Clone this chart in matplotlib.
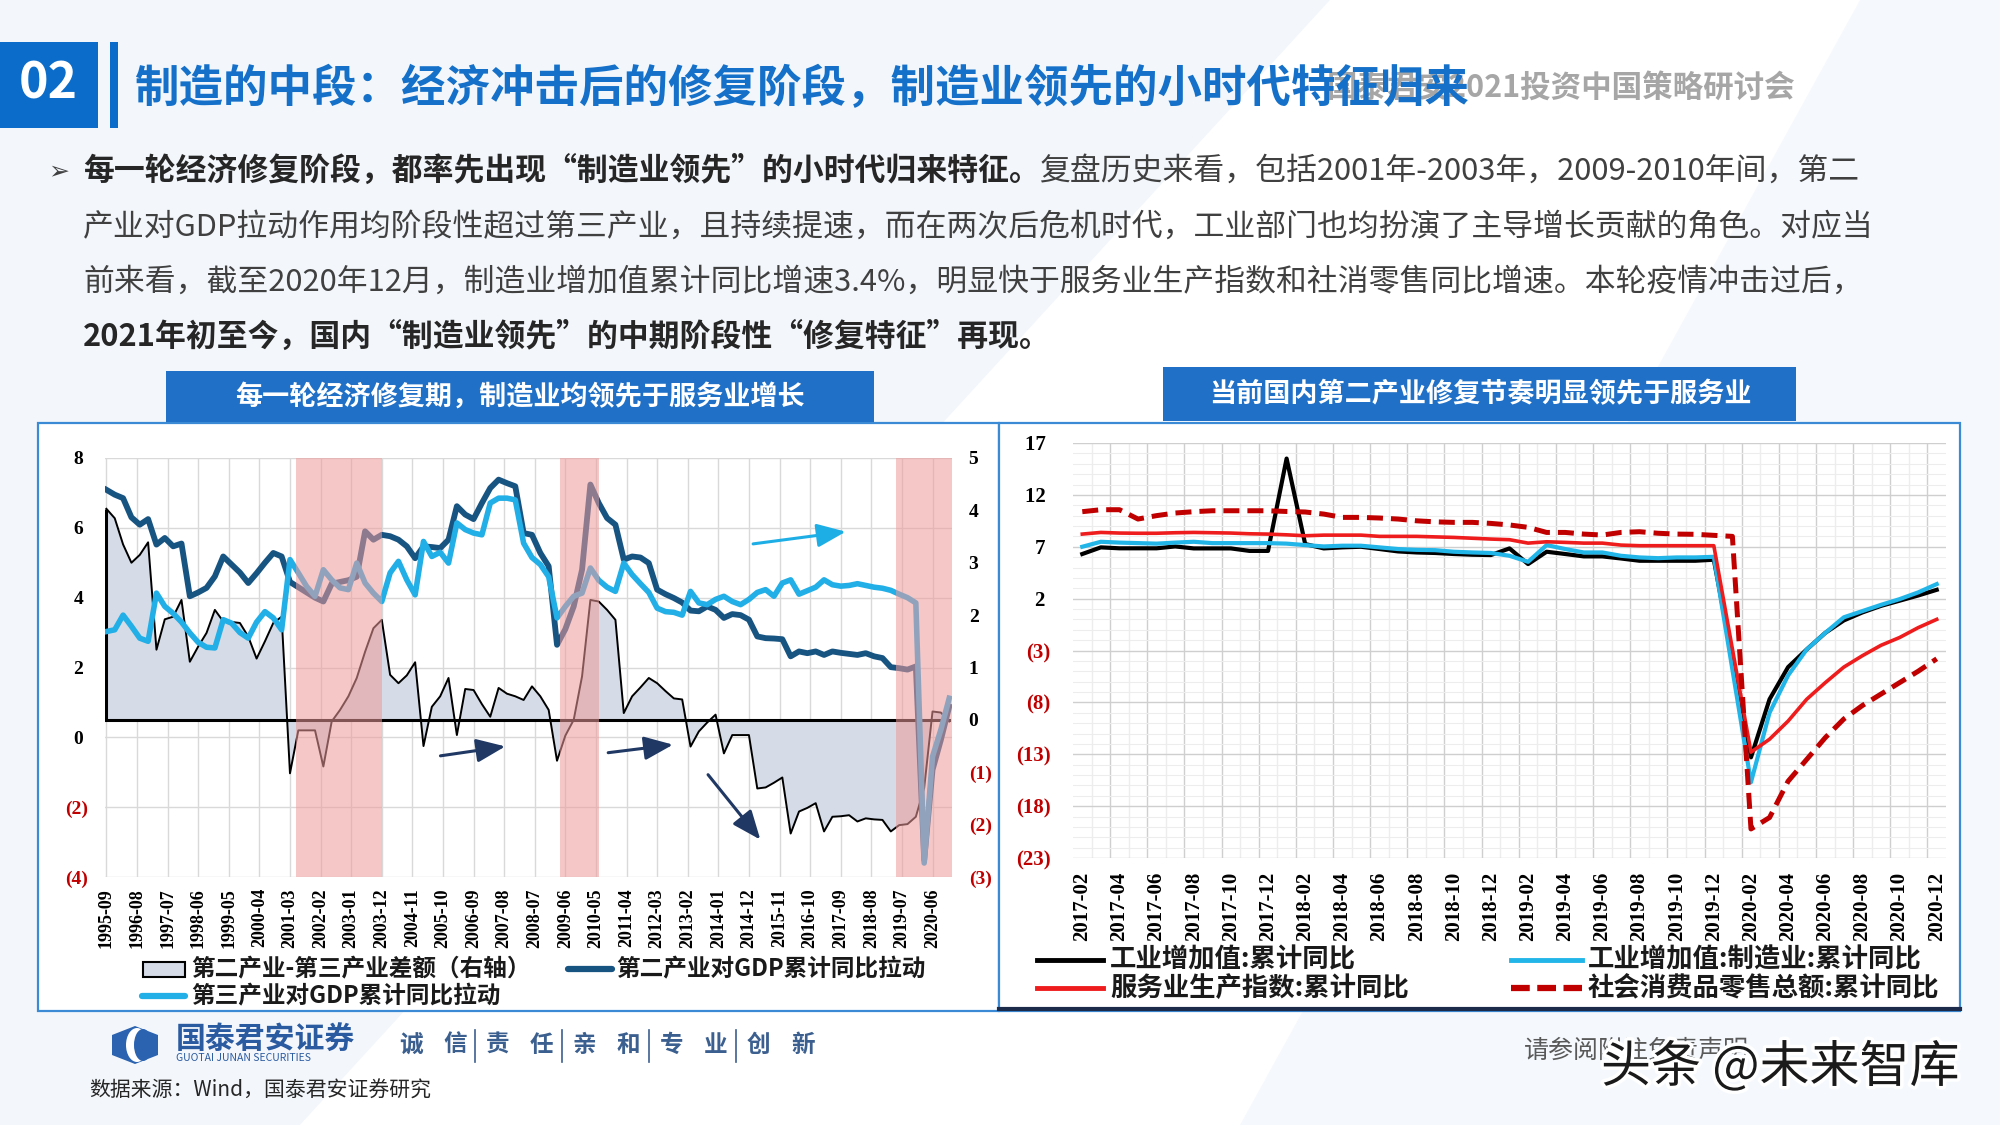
import numpy as np
import pandas as pd
import matplotlib
matplotlib.use("Agg")
import matplotlib.pyplot as plt
import matplotlib.patheffects as pe
from matplotlib.lines import Line2D
from matplotlib.patches import Rectangle, Polygon, Ellipse
from matplotlib.transforms import blended_transform_factory

CJK = ["Noto Sans CJK SC", "DejaVu Sans"]
SERIF = ["Liberation Serif", "DejaVu Serif"]
plt.rcParams["font.family"] = CJK

# ---------------- left chart: quarterly, 1995Q3 .. 2020Q4 ----------------
left_quarters = pd.period_range("1995Q3", "2020Q4", freq="Q")
second_pull = [
    7.09, 6.95, 6.85, 6.30, 6.09, 6.25, 5.52, 5.71, 5.47, 5.55,
    4.04, 4.15, 4.28, 4.61, 5.18, 4.95, 4.72, 4.42, 4.70, 5.00,
    5.28, 5.18, 4.45, 4.30, 4.15, 4.00, 3.89, 4.40, 4.45, 4.50,
    4.60, 5.90, 5.66, 5.80, 5.76, 5.66, 5.47, 5.13, 5.47, 5.45,
    5.42, 5.66, 6.62, 6.38, 6.25, 6.71, 7.14, 7.38, 7.28, 7.19,
    5.85, 5.80, 5.28, 4.90, 2.65, 3.10, 3.75, 4.80, 7.24, 6.71,
    6.28, 6.09, 5.09, 5.18, 5.15, 4.99, 4.23, 4.10, 3.99, 3.86,
    3.63, 3.61, 3.75, 3.65, 3.42, 3.53, 3.50, 3.37, 2.89, 2.84,
    2.83, 2.81, 2.32, 2.46, 2.41, 2.46, 2.36, 2.46, 2.42, 2.39,
    2.36, 2.41, 2.32, 2.27, 2.01, 1.98, 1.94, 2.03, -3.51, -0.93,
    -0.07, 0.88,
]
third_pull = [
    3.03, 3.08, 3.50, 3.18, 2.84, 2.75, 4.13, 3.75, 3.55, 3.30,
    2.99, 2.72, 2.58, 2.56, 3.37, 3.27, 3.00, 2.84, 3.30, 3.60,
    3.42, 3.08, 5.09, 4.71, 4.32, 4.04, 4.80, 4.51, 4.28, 4.23,
    4.99, 4.42, 4.13, 3.89, 4.71, 5.04, 4.51, 4.08, 5.61, 5.18,
    5.30, 4.99, 6.14, 5.95, 5.85, 5.80, 6.71, 6.85, 6.85, 6.80,
    5.56, 5.15, 4.95, 4.60, 3.42, 3.75, 4.04, 4.13, 4.85, 4.50,
    4.30, 4.18, 4.99, 4.66, 4.40, 4.15, 3.70, 3.60, 3.58, 3.50,
    4.18, 3.85, 3.80, 3.95, 4.04, 3.89, 3.80, 3.95, 4.15, 4.23,
    4.04, 4.42, 4.51, 4.10, 4.20, 4.30, 4.51, 4.37, 4.33, 4.35,
    4.40, 4.35, 4.30, 4.27, 4.21, 4.10, 4.00, 3.85, -3.60, -0.55,
    0.22, 1.12,
]
second_minus_third = [
    4.03, 3.85, 3.35, 3.00, 3.15, 3.39, 1.34, 1.92, 1.97, 2.29,
    1.11, 1.40, 1.66, 2.10, 1.88, 1.87, 1.85, 1.59, 1.17, 1.50,
    1.85, 1.97, -1.02, -0.20, -0.20, -0.20, -0.89, -0.03, 0.19, 0.45,
    0.80, 1.30, 1.75, 1.91, 0.86, 0.70, 0.85, 1.10, -0.50, 0.25,
    0.45, 0.80, -0.29, 0.59, 0.57, 0.30, 0.06, 0.61, 0.50, 0.45,
    0.38, 0.64, 0.45, 0.19, -0.78, -0.30, 0.00, 0.83, 2.29, 2.26,
    2.10, 1.91, 0.13, 0.45, 0.62, 0.80, 0.70, 0.55, 0.41, 0.39,
    -0.51, -0.22, -0.05, 0.10, -0.64, -0.29, -0.29, -0.29, -1.31, -1.29,
    -1.20, -1.10, -2.17, -1.75, -1.68, -1.59, -2.13, -1.85, -1.84, -1.82,
    -1.94, -1.88, -1.90, -1.91, -2.13, -2.01, -1.99, -1.85, -1.30, 0.16,
    0.14, -0.03,
]
left_tick_labels = [
    "1995-09", "1996-08", "1997-07", "1998-06", "1999-05", "2000-04", "2001-03",
    "2002-02", "2003-01", "2003-12", "2004-11", "2005-10", "2006-09", "2007-08",
    "2008-07", "2009-06", "2010-05", "2011-04", "2012-03", "2013-02", "2014-01",
    "2014-12", "2015-11", "2016-10", "2017-09", "2018-08", "2019-07", "2020-06",
]
recovery_periods = [("2001-05", "2003-12"), ("2009-04", "2010-06"), ("2019-05", "2021-01")]
pull_yticks = [-4, -2, 0, 2, 4, 6, 8]
diff_yticks = [-3, -2, -1, 0, 1, 2, 3, 4, 5]

# ---------------- right chart: monthly, 2017-02 .. 2020-12 ----------------
right_months = pd.period_range("2017-02", "2020-12", freq="M")
nan = np.nan
iva_total = [
    6.30, 6.94, 6.85, 6.85, 6.85, 7.03, 6.84, 6.84, 6.84, 6.60,
    6.60, 15.50, 7.26, 6.84, 6.94, 7.00, 6.78, 6.55, 6.45, 6.40,
    6.30, 6.23, 6.20, 6.84, 5.33, 6.52, 6.30, 6.07, 6.07, 5.87,
    5.65, 5.65, 5.65, 5.65, 5.75, nan, -13.30, -7.70, -4.60, -2.90,
    -1.30, -0.10, 0.67, 1.30, 1.80, 2.30, 2.85,
]
iva_mfg = [
    7.00, 7.48, 7.40, 7.35, 7.30, 7.40, 7.48, 7.35, 7.35, 7.35,
    7.35, 7.30, 7.16, 7.03, 7.10, 7.10, 6.94, 6.78, 6.70, 6.67,
    6.52, 6.45, 6.40, 6.13, 5.55, 7.16, 6.78, 6.45, 6.45, 6.13,
    5.97, 5.90, 5.97, 5.97, 6.03, nan, -15.70, -9.00, -5.40, -2.90,
    -1.30, 0.20, 0.80, 1.40, 1.95, 2.60, 3.40,
]
services_index = [
    8.22, 8.38, 8.32, 8.30, 8.30, 8.35, 8.38, 8.35, 8.32, 8.25,
    8.22, 8.15, 8.06, 8.12, 8.12, 8.12, 8.00, 8.00, 8.00, 7.95,
    7.90, 7.82, 7.74, 7.68, 7.35, 7.48, 7.42, 7.35, 7.35, 7.16,
    7.10, 7.10, 7.10, 7.10, 7.10, nan, -12.80, -11.55, -9.80, -7.70,
    -6.10, -4.60, -3.50, -2.50, -1.75, -0.80, 0.00,
]
retail_sales = [
    10.38, 10.57, 10.57, 9.67, 10.00, 10.25, 10.38, 10.47, 10.47, 10.47,
    10.47, 10.40, 10.35, 10.15, 9.83, 9.83, 9.77, 9.67, 9.50, 9.40,
    9.35, 9.35, 9.25, 9.10, 8.87, 8.38, 8.38, 8.22, 8.13, 8.38,
    8.45, 8.30, 8.22, 8.20, 8.10, 8.00, -20.20, -19.10, -15.60, -13.50,
    -11.40, -9.60, -8.30, -7.20, -6.10, -5.00, -3.80,
]
growth_yticks = list(range(-23, 18, 5))

motto_groups = [("诚", "信"), ("责", "任"), ("亲", "和"), ("专", "业"), ("创", "新")]

W, H = 2000, 1125
fig = plt.figure(figsize=(20, 11.25), dpi=100)
fig.patch.set_facecolor("white")


def txt(x, y, s, **kw):
    return fig.text(x / W, 1 - y / H, s, **kw)


def box(x0, y0, x1, y1, **kw):
    return fig.add_artist(Rectangle((x0 / W, 1 - y1 / H), (x1 - x0) / W, (y1 - y0) / H,
                                    transform=fig.transFigure, **kw))


def fline(x0, x1, y, **kw):
    fig.add_artist(Line2D([x0 / W, x1 / W], [1 - y / H, 1 - y / H], transform=fig.transFigure, **kw))


def month_index(s, base_year=1995, base_month=9):
    y, m = s.split("-")
    return (int(y) - base_year) * 12 + int(m) - base_month


def paren(v, pad=""):
    return f"({abs(v)})" if v < 0 else f"{v}{pad}"


# ---------------- slide background ----------------
fig.add_artist(Polygon([(0, 1), (0.665, 1), (0.15, 0), (0, 0)], closed=True,
                       transform=fig.transFigure, facecolor="#f3f7fc", lw=0, zorder=-20))
fig.add_artist(Polygon([(0.93, 1), (1, 1), (1, 0), (0.62, 0)], closed=True,
                       transform=fig.transFigure, facecolor="#f5f9fd", lw=0, zorder=-20))

# ---------------- title band ----------------
box(0, 42, 98, 128, facecolor="#0b6cc9", lw=0)
box(110, 42, 118, 128, facecolor="#0b6cc9", lw=0)
txt(48, 84, "02", fontsize=36, weight="bold", color="white", ha="center", va="center")
txt(1327, 88, "国泰君安2021投资中国策略研讨会", fontsize=22, weight="bold", color="#a6a6a6",
    va="center", zorder=1)
txt(134, 89, "制造的中段：经济冲击后的修复阶段，制造业领先的小时代特征归来", fontsize=32,
    weight="bold", color="#1470c8", va="center", zorder=2)

# ---------------- bullet paragraph ----------------
FS = 22.2
txt(48, 171, "➢", family=["DejaVu Sans"], fontsize=18, color="#404040", va="center")
b1 = txt(83, 171, "每一轮经济修复阶段，都率先出现“制造业领先”的小时代归来特征。", fontsize=FS,
         weight="bold", color="#262626", va="center")
bb = b1.get_window_extent(renderer=fig.canvas.get_renderer())
fig.text(bb.x1 / W, 1 - 171 / H, "复盘历史来看，包括2001年-2003年，2009-2010年间，第二", fontsize=FS,
         color="#404040", va="center")
txt(83, 227, "产业对GDP拉动作用均阶段性超过第三产业，且持续提速，而在两次后危机时代，工业部门也均扮演了主导增长贡献的角色。对应当",
    fontsize=FS, color="#404040", va="center")
txt(83, 282, "前来看，截至2020年12月，制造业增加值累计同比增速3.4%，明显快于服务业生产指数和社消零售同比增速。本轮疫情冲击过后，",
    fontsize=FS, color="#404040", va="center")
txt(83, 337, "2021年初至今，国内“制造业领先”的中期阶段性“修复特征”再现。", fontsize=FS,
    weight="bold", color="#262626", va="center")

# ---------------- chart panels and headers ----------------
box(38, 423, 999, 1011, facecolor="white", edgecolor="#3a8ad6", lw=1.6, zorder=-5)
box(999, 423, 1960, 1011, facecolor="white", edgecolor="#3a8ad6", lw=1.6, zorder=-5)
fline(999, 1960, 1009, color="#1c2b4a", lw=3, zorder=-4)
box(166, 371, 874, 422, facecolor="#1f70c6", lw=0)
txt(520, 397, "每一轮经济修复期，制造业均领先于服务业增长", fontsize=19.5, weight="bold",
    color="white", ha="center", va="center")
box(1163, 367, 1796, 421, facecolor="#1f70c6", lw=0)
txt(1480, 394, "当前国内第二产业修复节奏明显领先于服务业", fontsize=19.5, weight="bold",
    color="white", ha="center", va="center")

# ---------------- left chart ----------------
xq = np.array([(q.year - 1995) * 12 + q.quarter * 3 - 9 for q in left_quarters])
tick_ms = [month_index(s) for s in left_tick_labels]

axD = fig.add_axes([105 / W, 1 - 877 / H, 847 / W, 419 / H])
axG = axD.twinx()
for a in (axD, axG):
    for s in a.spines.values():
        s.set_visible(False)

axD.set_axisbelow(True)
axD.set_xticks(tick_ms, left_tick_labels, rotation=90, fontfamily=SERIF, weight="bold",
               fontsize=13)
axD.grid(axis="x", color="#d9d9d9", lw=1)
tr = blended_transform_factory(axD.transAxes, axG.transData)
for v in pull_yticks:
    axD.plot([0, 1], [v, v], transform=tr, color="#d9d9d9", lw=1, zorder=0.5)

diff = np.array(second_minus_third)
axD.fill_between(xq, 0, diff, facecolor="#d5dce7", lw=0, zorder=1)
axD.plot(xq, diff, color="black", lw=1.4, zorder=2)
axD.plot([xq[0], xq[-1]], [0, 0], color="black", lw=2.2, zorder=2)
axD.vlines(xq[0], 0, diff[0], color="black", lw=2.2, zorder=2)

axD.yaxis.tick_right()
axD.set_yticks(diff_yticks, [paren(v) for v in diff_yticks], fontfamily=SERIF,
               weight="bold", fontsize=14)
for lbl, v in zip(axD.get_yticklabels(), diff_yticks):
    lbl.set_color("#c00000" if v < 0 else "black")
axD.tick_params(axis="both", length=0)
axD.tick_params(axis="x", pad=8)
axD.tick_params(axis="y", pad=12)

axG.plot(xq, second_pull, color="#185482", lw=4.2, solid_joinstyle="round", zorder=3)
axG.plot(xq, third_pull, color="#22aee6", lw=4.0, solid_joinstyle="round", zorder=4)
for start, end in recovery_periods:
    axG.axvspan(month_index(start), month_index(end), color="#ee9a9a", alpha=0.55, lw=0, zorder=10)
axG.yaxis.tick_left()
axG.set_yticks(pull_yticks, [paren(v, " ") for v in pull_yticks], fontfamily=SERIF,
               weight="bold", fontsize=14)
for lbl, v in zip(axG.get_yticklabels(), pull_yticks):
    lbl.set_color("#c00000" if v < 0 else "black")
axG.tick_params(axis="y", length=0, pad=12)

trend_arrows = [((232.5, 5.54), (265.8, 5.89), "#1eaee6"),
                ((120.1, -0.53), (143.4, -0.26), "#203864"),
                ((180.4, -0.44), (203.7, -0.21), "#203864"),
                ((216.3, -1.07), (235.1, -2.93), "#203864")]
for tail, head, col in trend_arrows:
    axG.annotate("", xy=head, xytext=tail, zorder=12,
                 arrowprops=dict(arrowstyle="-|>,head_length=1.1,head_width=0.45",
                                 mutation_scale=16, color=col, lw=2.2, shrinkA=0, shrinkB=0))

axD.set_xlim(-0.5, 304)
axD.set_ylim(-3, 5)
axG.set_ylim(-4, 8)

# left legend
box(143, 962, 185, 977, facecolor="#d5dce7", edgecolor="black", lw=1.5)
txt(191, 969, "第二产业-第三产业差额（右轴）", fontsize=17, weight="bold", color="#1a1a1a", va="center")
fline(568, 612, 969, color="#185482", lw=4.5, solid_capstyle="round")
txt(616, 969, "第二产业对GDP累计同比拉动", fontsize=17, weight="bold", color="#1a1a1a", va="center")
fline(142, 185, 996, color="#22aee6", lw=4.5, solid_capstyle="round")
txt(191, 996, "第三产业对GDP累计同比拉动", fontsize=17, weight="bold", color="#1a1a1a", va="center")

# ---------------- right chart ----------------
axR = fig.add_axes([1073 / W, 1 - 858 / H, 873 / W, 415 / H])
xm = np.arange(len(right_months))
for s in axR.spines.values():
    s.set_visible(False)
axR.set_axisbelow(True)
axR.set_yticks(growth_yticks, [paren(v, " ") for v in growth_yticks], fontfamily=SERIF,
               weight="bold", fontsize=15)
for lbl, v in zip(axR.get_yticklabels(), growth_yticks):
    lbl.set_color("#c00000" if v < 0 else "black")
axR.set_yticks(range(-23, 18), minor=True)
axR.grid(axis="y", which="major", color="#cfcfcf", lw=1)
axR.grid(axis="y", which="minor", color="#ededed", lw=0.8)
for i, b in enumerate(np.arange(0.5, len(right_months) - 0.5, 1)):
    axR.axvline(b, color="#cfcfcf" if i % 2 == 1 else "#ededed", lw=1, zorder=0)
axR.set_xticks(xm[::2], [m.strftime("%Y-%m") for m in right_months[::2]], rotation=90,
               fontfamily=SERIF, weight="bold", fontsize=15)
axR.tick_params(which="both", length=0)
axR.tick_params(axis="x", pad=10)
axR.tick_params(axis="y", pad=16)

for series, col, lw, ls in [(iva_total, "black", 3.0, "-"),
                            (iva_mfg, "#21b5e8", 3.0, "-"),
                            (services_index, "#ee1c1c", 2.6, "-"),
                            (retail_sales, "#c00000", 3.6, (0, (3.2, 1.6)))]:
    y = np.array(series, dtype=float)
    ok = ~np.isnan(y)
    axR.plot(xm[ok], y[ok], color=col, lw=lw, ls=ls, solid_joinstyle="round", zorder=3)
axR.set_xlim(-0.5, len(right_months) - 0.5)
axR.set_ylim(-23, 17)

# right legend
fline(1037, 1103, 960, color="black", lw=3.5)
txt(1110, 960, "工业增加值:累计同比", fontsize=19, weight="bold", color="#1a1a1a", va="center")
fline(1511, 1582, 960, color="#21b5e8", lw=3.5)
txt(1588, 960, "工业增加值:制造业:累计同比", fontsize=19, weight="bold", color="#1a1a1a", va="center")
fline(1037, 1103, 988, color="#ee1c1c", lw=3.5)
txt(1110, 988, "服务业生产指数:累计同比", fontsize=19, weight="bold", color="#1a1a1a", va="center")
fline(1511, 1582, 988, color="#c00000", lw=4.5, ls=(0, (3.0, 1.2)))
txt(1588, 988, "社会消费品零售总额:累计同比", fontsize=19, weight="bold", color="#1a1a1a", va="center")

# ---------------- footer ----------------
fig.add_artist(Polygon([(135 / W, 1 - 1026 / H), (158 / W, 1 - 1035 / H), (158 / W, 1 - 1055 / H),
                        (135 / W, 1 - 1064 / H), (112 / W, 1 - 1055 / H), (112 / W, 1 - 1035 / H)],
                       closed=True, transform=fig.transFigure, facecolor="#2b63b0", lw=0))
fig.add_artist(Ellipse((137 / W, 1 - 1045 / H), 22 / W, 34 / H, transform=fig.transFigure,
                       facecolor="white", lw=0))
fig.add_artist(Ellipse((143 / W, 1 - 1045 / H), 18 / W, 32 / H, transform=fig.transFigure,
                       facecolor="#2b63b0", lw=0))
txt(176, 1040, "国泰君安证券", fontsize=21.5, weight="bold", color="#2a5aa0", va="center")
txt(176, 1058, "GUOTAI JUNAN SECURITIES", fontsize=7.5, color="#2a5aa0", va="center")
for i, (c1, c2) in enumerate(motto_groups):
    gx = 399 + i * 87
    txt(gx, 1045, c1, fontsize=17, weight="bold", color="#3b5f8f", va="center")
    txt(gx + 44, 1045, c2, fontsize=17, weight="bold", color="#3b5f8f", va="center")
    if i < len(motto_groups) - 1:
        fig.add_artist(Line2D([(gx + 76) / W] * 2, [1 - 1030 / H, 1 - 1062 / H],
                              transform=fig.transFigure, color="#3b5f8f", lw=1.2))
txt(89, 1091, "数据来源：Wind，国泰君安证券研究", fontsize=15, color="#262626", va="center")
txt(1524, 1051, "请参阅附注免责声明", fontsize=18, color="#595959", va="center")
txt(1601, 1068, "头条 @未来智库", fontsize=36, color="#1a1a1a", va="center",
    path_effects=[pe.withStroke(linewidth=5, foreground="white")])

fig.savefig("out.png", dpi=100, facecolor=fig.get_facecolor())
